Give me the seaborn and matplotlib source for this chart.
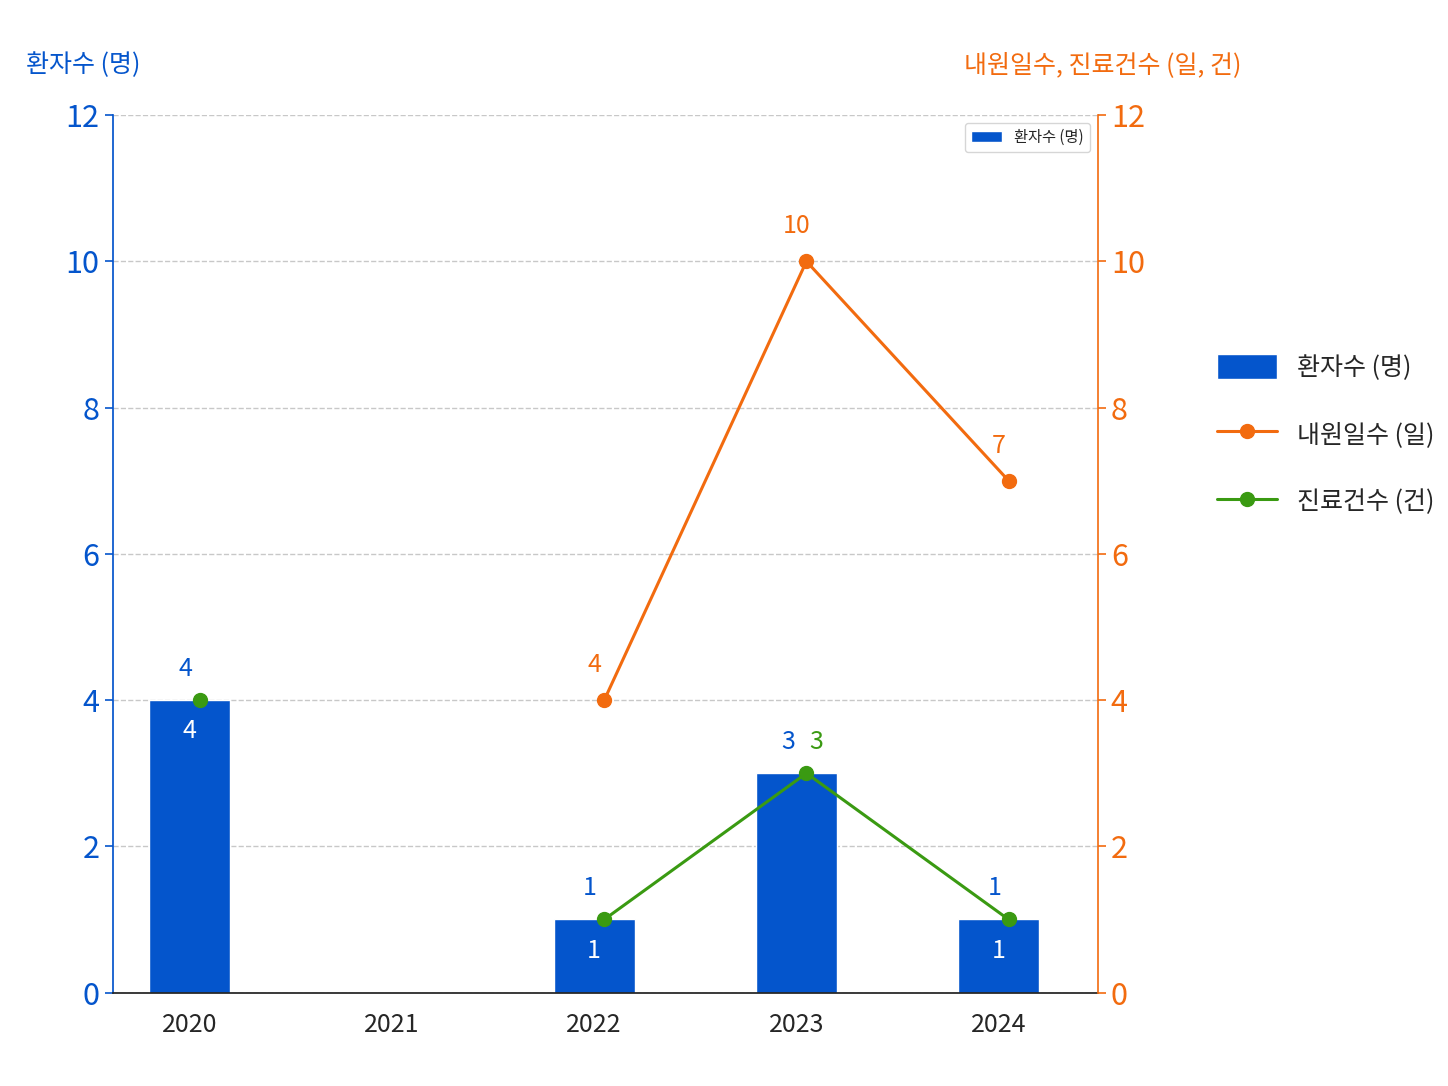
import numpy as np
import pandas as pd
import matplotlib.pyplot as plt
import seaborn as sns

# 데이터
years = ["2020", "2021", "2022", "2023", "2024"]
patients = [4, 0, 1, 3, 1]  # 환자수 (명)
visit_days = [np.nan, np.nan, 4, 10, 7]  # 내원일수 (일)
treatments = [4, np.nan, 1, 3, 1]  # 진료건수 (건)

blue = "#0455CC"
orange = "#F26B0F"
green = "#3A9A12"

sns.set_theme(style="white")
plt.rcParams["font.family"] = ["Noto Sans CJK KR", "DejaVu Sans"]

df = pd.DataFrame({"year": years, "patients": patients})

fig = plt.figure(figsize=(14.48, 10.86), dpi=100)
ax = fig.add_axes([0.078, 0.086, 0.68, 0.808])

sns.barplot(data=df, x="year", y="patients", color=blue, width=0.4, saturation=1, ax=ax, label="환자수 (명)")
ax.set_ylim(0, 12)
ax.set_xlim(-0.38, 4.49)
ax.set_yticks(range(0, 13, 2))
ax.set_xlabel("")
ax.set_ylabel("")
ax.tick_params(axis="y", colors=blue, labelsize=22, length=6, width=1.2)
ax.tick_params(axis="x", labelsize=18, length=0, pad=14)
ax.yaxis.grid(True, linestyle="--", color="#C8C8C8", linewidth=1)
ax.set_axisbelow(True)
for s in ["top", "right"]:
    ax.spines[s].set_visible(False)
ax.spines["left"].set_color(blue)
ax.spines["bottom"].set_color("#222222")

# 막대 값 라벨
for i, v in enumerate(patients):
    if v > 0:
        ax.text(i + (-0.02 if i != 3 else -0.04), v + 0.25, str(v), color=blue, fontsize=18, ha="center", va="bottom")

ax2 = ax.twinx()
ax2.set_ylim(0, 12)
ax2.set_yticks(range(0, 13, 2))
ax2.tick_params(axis="y", colors=orange, labelsize=22, length=6, width=1.2)
for s in ["top", "left", "bottom"]:
    ax2.spines[s].set_visible(False)
ax2.spines["right"].set_color(orange)
ax2.spines["right"].set_linewidth(1.2)

x = np.arange(len(years))
ax2.plot(x + 0.05, visit_days, color=orange, marker="o", markersize=10, linewidth=2.2, label="내원일수 (일)")
ax2.plot(x + 0.05, treatments, color=green, marker="o", markersize=10, linewidth=2.2, label="진료건수 (건)")

for i, v in enumerate(visit_days):
    if not np.isnan(v):
        ax2.text(i + 0.0, v + 0.3, str(int(v)), color=orange, fontsize=18, ha="center", va="bottom")
for i, v in enumerate(treatments):
    if np.isnan(v):
        continue
    if i == 3:
        ax2.text(i + 0.1, v + 0.25, str(int(v)), color=green, fontsize=18, ha="center", va="bottom")
    else:
        ax2.text(i + 0.0, v - 0.25, str(int(v)), color="white", fontsize=18, ha="center", va="top")

fig.text(0.018, 0.94, "환자수 (명)", color=blue, fontsize=18, ha="left", va="center")
fig.text(0.857, 0.94, "내원일수, 진료건수 (일, 건)", color=orange, fontsize=18, ha="right", va="center")

h1, l1 = ax.get_legend_handles_labels()
h2, l2 = ax2.get_legend_handles_labels()
fig.legend(h1 + h2, l1 + l2, loc="center left", bbox_to_anchor=(0.825, 0.6), frameon=False,
           fontsize=18, labelspacing=1.6, handlelength=2.4, handleheight=1.2)

fig.savefig("out.png", dpi=100, facecolor="white")
